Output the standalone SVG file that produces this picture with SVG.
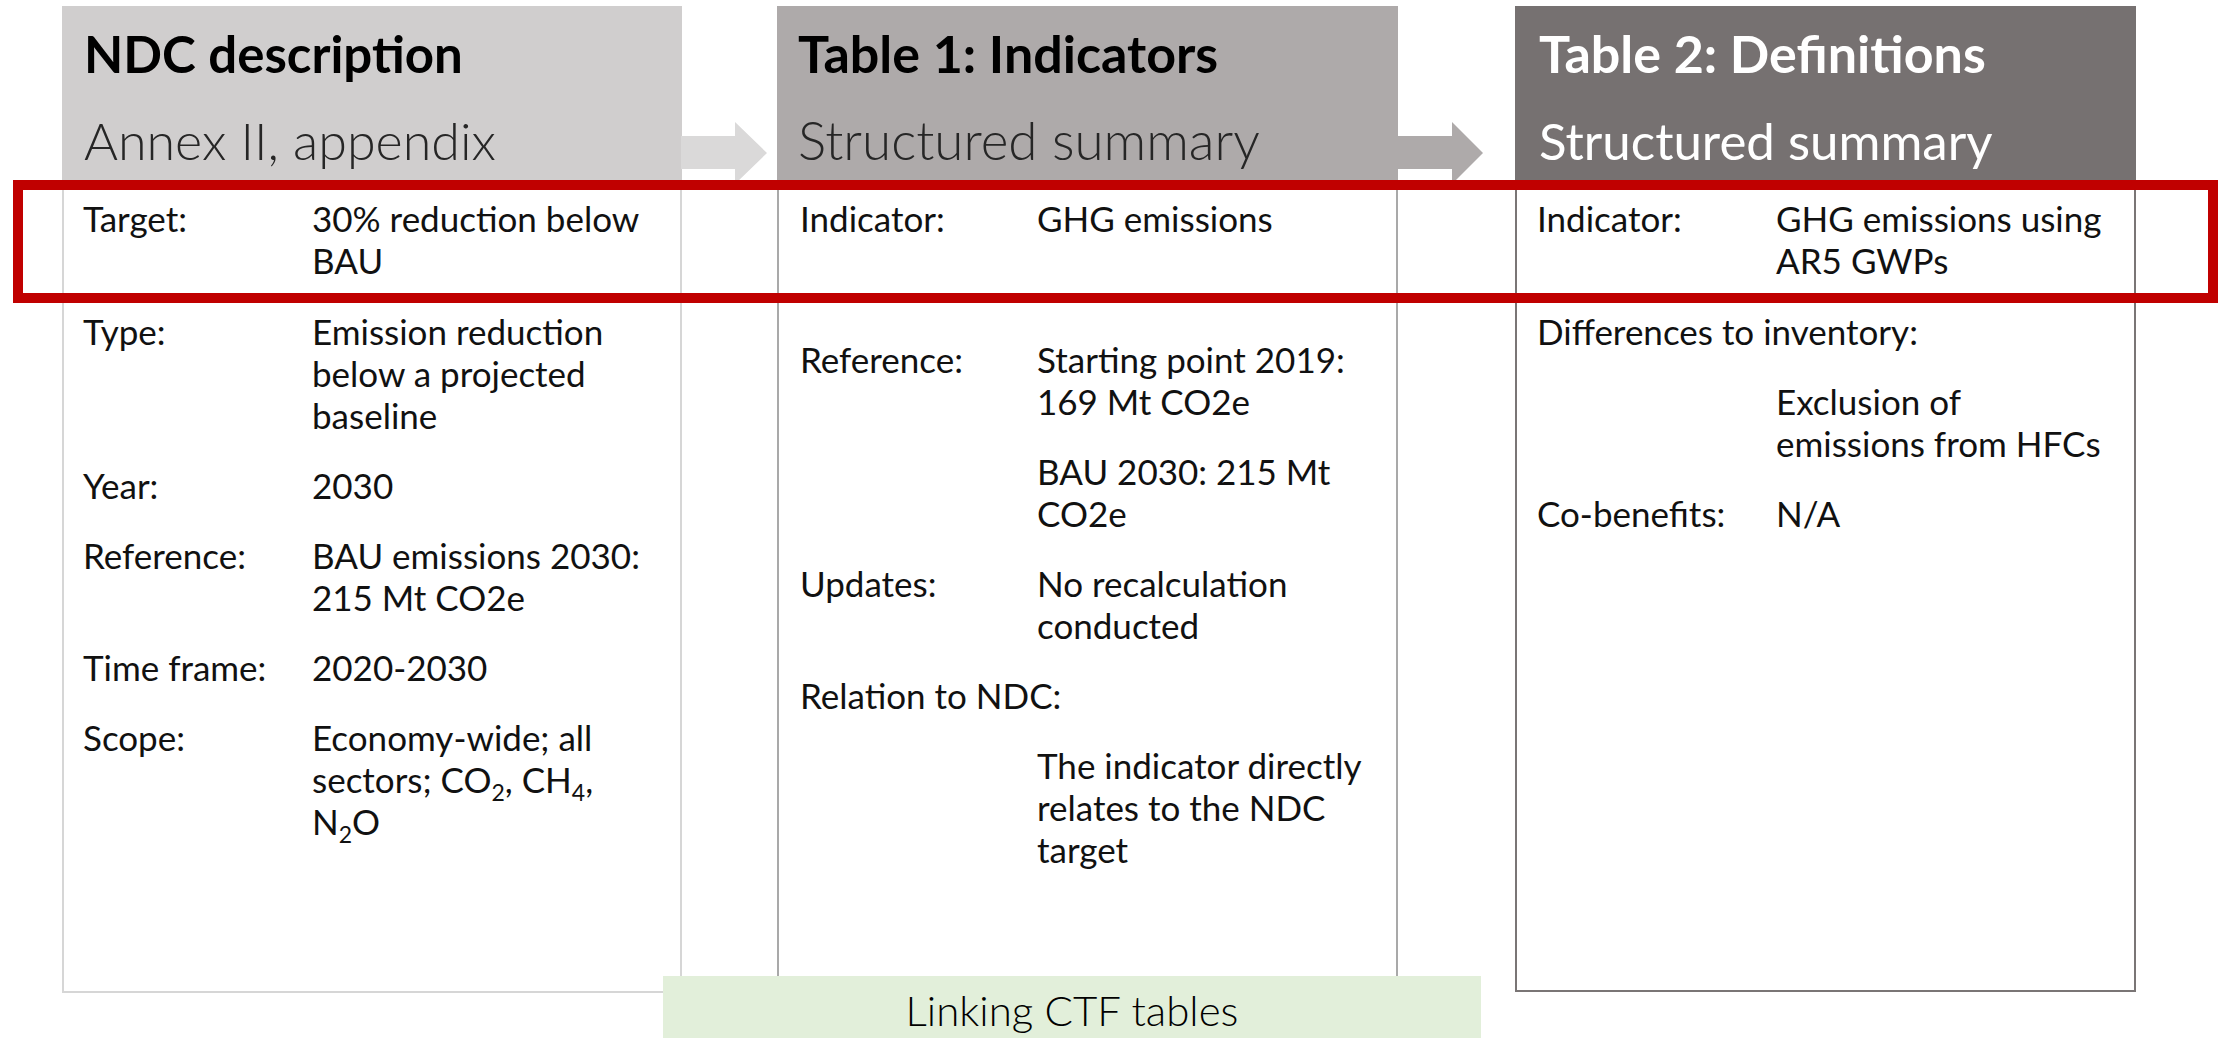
<svg xmlns="http://www.w3.org/2000/svg" width="2224" height="1038" viewBox="0 0 2224 1038">
<style>
text{font-family:Lato,"Open Sans","Liberation Sans",sans-serif;}
.t{font-size:52px;font-weight:700;fill:#000;}
.s{font-size:53px;font-weight:300;fill:#262626;}
.w{fill:#fff;}
.b{font-size:35px;fill:#111;}
.sub{font-size:23px;}
.frame{fill:#fff;stroke-width:2;}
</style>
<rect width="2224" height="1038" fill="#fff"/>
<g id="panel-ndc">
<rect class="frame" x="63" y="7" width="618" height="985" stroke="#d6d6d6"/>
<rect x="62" y="6" width="620" height="180" fill="#d0cece"/>
<text class="t" x="84" y="73" style="font-size:51px">NDC description</text>
<text class="s" x="84" y="160" style="font-size:52px">Annex II, appendix</text>
<text class="b" x="83" y="232">Target:</text>
<text class="b" x="312" y="232">30% reduction below</text>
<text class="b" x="312" y="274">BAU</text>
<text class="b" x="83" y="345">Type:</text>
<text class="b" x="312" y="345">Emission reduction</text>
<text class="b" x="312" y="387">below a projected</text>
<text class="b" x="312" y="429">baseline</text>
<text class="b" x="83" y="499">Year:</text>
<text class="b" x="312" y="499">2030</text>
<text class="b" x="83" y="569">Reference:</text>
<text class="b" x="312" y="569">BAU emissions 2030:</text>
<text class="b" x="312" y="611">215 Mt CO2e</text>
<text class="b" x="83" y="681">Time frame:</text>
<text class="b" x="312" y="681">2020-2030</text>
<text class="b" x="83" y="751">Scope:</text>
<text class="b" x="312" y="751">Economy-wide; all</text>
<text class="b" x="312" y="793">sectors; CO<tspan class="sub" dy="8">2</tspan><tspan dy="-8">, CH</tspan><tspan class="sub" dy="8">4</tspan><tspan dy="-8">,</tspan></text>
<text class="b" x="312" y="835">N<tspan class="sub" dy="8">2</tspan><tspan dy="-8">O</tspan></text>
</g>
<g id="panel-table1">
<rect class="frame" x="778" y="7" width="619" height="985" stroke="#a9a9a9"/>
<rect x="777" y="6" width="621" height="180" fill="#aeaaaa"/>
<text class="t" x="798" y="73">Table 1: Indicators</text>
<text class="s" x="798" y="160">Structured summary</text>
<text class="b" x="800" y="232">Indicator:</text>
<text class="b" x="1037" y="232">GHG emissions</text>
<text class="b" x="800" y="373">Reference:</text>
<text class="b" x="1037" y="373">Starting point 2019:</text>
<text class="b" x="1037" y="415">169 Mt CO2e</text>
<text class="b" x="1037" y="485">BAU 2030: 215 Mt</text>
<text class="b" x="1037" y="527">CO2e</text>
<text class="b" x="800" y="597">Updates:</text>
<text class="b" x="1037" y="597">No recalculation</text>
<text class="b" x="1037" y="639">conducted</text>
<text class="b" x="800" y="709">Relation to NDC:</text>
<text class="b" x="1037" y="779">The indicator directly</text>
<text class="b" x="1037" y="821">relates to the NDC</text>
<text class="b" x="1037" y="863">target</text>
</g>
<g id="panel-table2">
<rect class="frame" x="1516" y="7" width="619" height="984" stroke="#7a7575"/>
<rect x="1515" y="6" width="621" height="180" fill="#767171"/>
<text class="t w" x="1539" y="73">Table 2: Definitions</text>
<text class="s w" x="1539" y="160" style="font-weight:400;font-size:51px">Structured summary</text>
<text class="b" x="1537" y="232">Indicator:</text>
<text class="b" x="1776" y="232">GHG emissions using</text>
<text class="b" x="1776" y="274">AR5 GWPs</text>
<text class="b" x="1537" y="345">Differences to inventory:</text>
<text class="b" x="1776" y="415">Exclusion of</text>
<text class="b" x="1776" y="457">emissions from HFCs</text>
<text class="b" x="1537" y="527">Co-benefits:</text>
<text class="b" x="1776" y="527">N/A</text>
</g>
<g id="connectors">
<polygon points="681,136 735,136 735,122 767,153 735,184 735,169 681,169" fill="#dad9d9"/>
<polygon points="1398,136 1452,136 1452,122 1483,153 1452,184 1452,169 1398,169" fill="#aeaaaa"/>
</g>
<g id="highlight">
<rect x="18" y="185" width="2195" height="113" fill="none" stroke="#c00000" stroke-width="10"/>
</g>
<g id="caption">
<rect x="663" y="976" width="818" height="62" fill="#e2efda"/>
<text x="1072" y="1026" text-anchor="middle" style="font-size:42px;font-weight:300;fill:#000">Linking CTF tables</text>
</g>
</svg>
